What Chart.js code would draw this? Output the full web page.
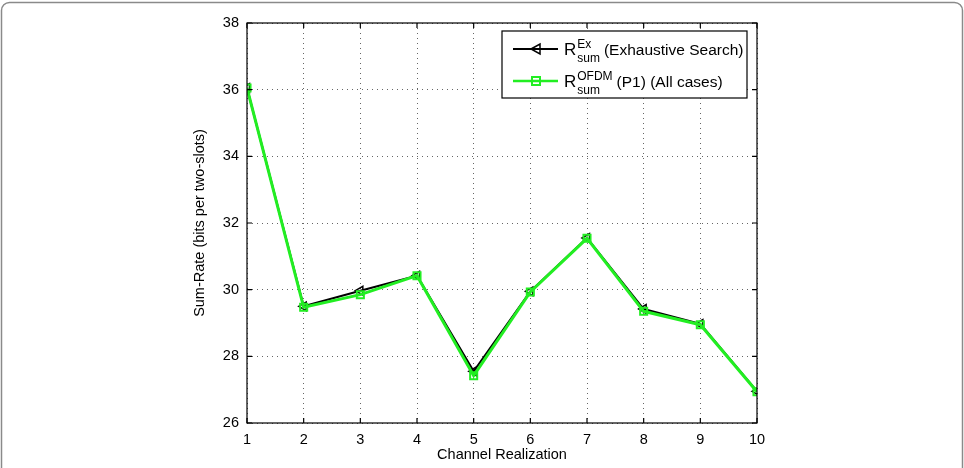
<!DOCTYPE html>
<html>
<head>
<meta charset="utf-8">
<script src="https://cdn.jsdelivr.net/npm/chart.js@4"></script>
<style>
  html, body { margin: 0; padding: 0; background: #fff; }
  #wrap { width: 964px; height: 468px; position: relative; }
</style>
</head>
<body>
<div id="wrap"><canvas id="chart" width="964" height="468"></canvas></div>
<script>
const realizations = [1, 2, 3, 4, 5, 6, 7, 8, 9, 10];
const exhaustive = [36.05, 29.5, 29.97, 30.42, 27.55, 29.95, 31.55, 29.42, 28.97, 26.95];
const ofdmP1 = [36.05, 29.47, 29.85, 30.42, 27.42, 29.93, 31.54, 29.35, 28.95, 26.94];
const yTicks = [26, 28, 30, 32, 34, 36, 38];

const FONT = "Liberation Sans";

// grey frame round the figure, box and inward ticks round the plot, legend
const decor = {
  id: "decor",
  beforeDraw(chart) {
    const ctx = chart.ctx;
    ctx.save();
    ctx.fillStyle = "#fff";
    ctx.fillRect(0, 0, chart.width, chart.height);
    ctx.strokeStyle = "#8a8a8a";
    ctx.lineWidth = 1.5;
    ctx.beginPath();
    ctx.roundRect(1.5, 2.5, 961, 480, 8);
    ctx.stroke();
    ctx.restore();
  },
  afterDraw(chart) {
    const ctx = chart.ctx;
    const a = chart.chartArea;
    const xs = chart.scales.x, ys = chart.scales.y;
    ctx.save();
    ctx.strokeStyle = "#000";
    ctx.lineWidth = 1.2;
    ctx.strokeRect(a.left, a.top, a.right - a.left, a.bottom - a.top);
    ctx.beginPath();
    realizations.forEach((v) => {
      const px = xs.getPixelForValue(v);
      ctx.moveTo(px, a.bottom); ctx.lineTo(px, a.bottom - 5);
      ctx.moveTo(px, a.top); ctx.lineTo(px, a.top + 5);
    });
    yTicks.forEach((v) => {
      const py = ys.getPixelForValue(v);
      ctx.moveTo(a.left, py); ctx.lineTo(a.left + 5, py);
      ctx.moveTo(a.right, py); ctx.lineTo(a.right - 5, py);
    });
    ctx.stroke();

    // legend
    const lx = 502, ly = 31, lw = 245, lh = 67;
    ctx.fillStyle = "#fff";
    ctx.fillRect(lx, ly, lw, lh);
    ctx.strokeStyle = "#000";
    ctx.lineWidth = 1.2;
    ctx.strokeRect(lx, ly, lw, lh);

    const rows = [
      { y: 49, color: "#000", width: 2, sup: "Ex", rest: "(Exhaustive Search)", marker: "tri" },
      { y: 81, color: "#22ee22", width: 2.5, sup: "OFDM", rest: "(P1) (All cases)", marker: "sq" },
    ];
    rows.forEach((r) => {
      ctx.strokeStyle = r.color;
      ctx.lineWidth = r.width;
      ctx.beginPath();
      ctx.moveTo(lx + 11, r.y); ctx.lineTo(lx + 56, r.y);
      ctx.stroke();
      const mx = lx + 34;
      ctx.beginPath();
      if (r.marker === "tri") {
        ctx.lineWidth = 1.5;
        ctx.moveTo(mx - 5, r.y); ctx.lineTo(mx + 4, r.y - 5); ctx.lineTo(mx + 4, r.y + 5); ctx.closePath();
      } else {
        ctx.lineWidth = 2;
        ctx.rect(mx - 4, r.y - 4, 8, 8);
      }
      ctx.stroke();

      ctx.fillStyle = "#000";
      ctx.textBaseline = "alphabetic";
      ctx.textAlign = "left";
      ctx.font = "17px " + FONT;
      const tx = 564;
      ctx.fillText("R", tx, r.y + 6);
      const rw = ctx.measureText("R").width;
      ctx.font = "12px " + FONT;
      ctx.fillText(r.sup, tx + rw + 1, r.y - 1);
      ctx.fillText("sum", tx + rw + 1, r.y + 13);
      const w = Math.max(ctx.measureText(r.sup).width, ctx.measureText("sum").width);
      ctx.font = "15.5px " + FONT;
      ctx.fillText(r.rest, tx + rw + w + 5, r.y + 6);
    });
    ctx.restore();
  },
};

new Chart(document.getElementById("chart"), {
  type: "line",
  data: {
    labels: realizations,
    datasets: [
      {
        label: "R_sum^OFDM (P1) (All cases)",
        data: ofdmP1,
        borderColor: "#22ee22",
        borderWidth: 3,
        pointStyle: "rect",
        pointRadius: 5,
        pointBorderWidth: 2,
        pointBorderColor: "#22ee22",
        pointBackgroundColor: "rgba(0,0,0,0)",
        tension: 0,
        order: 1,
      },
      {
        label: "R_sum^Ex (Exhaustive Search)",
        data: exhaustive,
        borderColor: "#000",
        borderWidth: 2,
        pointStyle: "triangle",
        pointRotation: -90,
        pointRadius: 5,
        pointBorderWidth: 1.5,
        pointBorderColor: "#000",
        pointBackgroundColor: "rgba(0,0,0,0)",
        tension: 0,
        order: 2,
      },
    ],
  },
  options: {
    responsive: false,
    animation: false,
    layout: { padding: { left: 187, right: 207, top: 23, bottom: 0 } },
    plugins: { legend: { display: false }, tooltip: { enabled: false } },
    scales: {
      x: {
        type: "linear",
        min: 1,
        max: 10,
        afterFit: (s) => { s.height = 45; },
        afterBuildTicks: (s) => { s.ticks = realizations.map((v) => ({ value: v })); },
        grid: { color: "#666", drawTicks: false },
        border: { display: false, dash: [1, 4] },
        ticks: { color: "#000", font: { family: FONT, size: 14.5 }, padding: 8, maxRotation: 0 },
        title: { display: true, text: "Channel Realization", color: "#000", font: { family: FONT, size: 14.5 }, padding: { top: 5 } },
      },
      y: {
        min: 26,
        max: 38,
        afterFit: (s) => { s.width = 60; },
        afterBuildTicks: (s) => { s.ticks = yTicks.map((v) => ({ value: v })); },
        grid: { color: "#666", drawTicks: false },
        border: { display: false, dash: [1, 4] },
        ticks: { color: "#000", font: { family: FONT, size: 14.5 }, padding: 8 },
        title: { display: true, text: "Sum-Rate (bits per two-slots)", color: "#000", font: { family: FONT, size: 14.5 }, padding: { bottom: 0 } },
      },
    },
  },
  plugins: [decor],
});
</script>
</body>
</html>
